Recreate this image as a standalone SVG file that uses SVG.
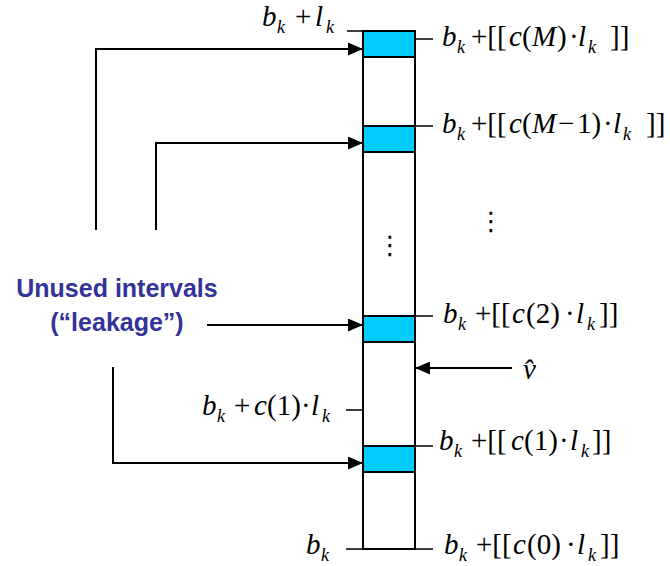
<svg xmlns="http://www.w3.org/2000/svg" width="670" height="566" viewBox="0 0 670 566">
<style>
.m{font-family:"Liberation Serif","Times New Roman",serif;font-size:29px;fill:#000}
.i{font-style:italic}
.s{font-size:18px;font-style:italic}
.lbl{font-family:"Liberation Sans",Arial,sans-serif;font-weight:bold;font-size:25px;fill:#333399;text-anchor:middle}
.dots{font-family:"DejaVu Sans",sans-serif;font-size:26px;fill:#000;text-anchor:middle}
.col{fill:#fff;stroke:#000;stroke-width:2}
.box{fill:#00CCFF;stroke:#000;stroke-width:2}
.tick{stroke:#000;stroke-width:1.5;fill:none}
.con{stroke:#000;stroke-width:2;fill:none}
</style>
<defs>
<marker id="ah" markerUnits="userSpaceOnUse" markerWidth="15" markerHeight="13" refX="15" refY="6.5" orient="auto">
<path d="M0,0 L15,6.5 L0,13 z" fill="#000"/>
</marker>
</defs>

<g id="column">
<rect class="col" x="363" y="31" width="52" height="518"/>
<text class="dots" x="390" y="254">⋮</text>
</g>
<g id="box-M"><rect class="box" x="363" y="31" width="52" height="26"/></g>
<g id="box-M1"><rect class="box" x="363" y="126" width="52" height="26"/></g>
<g id="box-2"><rect class="box" x="363" y="316" width="52" height="26"/></g>
<g id="box-1"><rect class="box" x="363" y="446" width="52" height="26"/></g>

<g id="ticks">
<path class="tick" d="M347,31H363 M415,39H433 M415,126H433 M415,316H433 M346,410H363 M415,446H433 M346,549H363 M415,549H433"/>
</g>

<g id="label-top-left">
<text class="m"><tspan class="i" x="262" y="26">b</tspan><tspan class="s" x="277" y="33">k</tspan><tspan x="295" y="26">+</tspan><tspan class="i" x="315" y="26">l</tspan><tspan class="s" x="326" y="33">k</tspan></text>
</g>

<g id="label-cM">
<text class="m"><tspan class="i" x="442" y="46">b</tspan><tspan class="s" x="457" y="53">k</tspan><tspan x="471" y="46">+[[</tspan><tspan class="i" x="509" y="46">c</tspan><tspan x="522" y="46">(</tspan><tspan class="i" x="532" y="46">M</tspan><tspan x="557" y="46">)</tspan><tspan x="569" y="46">·</tspan><tspan class="i" x="578" y="46">l</tspan><tspan class="s" x="588" y="53">k</tspan><tspan x="610" y="46">]]</tspan></text>
</g>

<g id="label-cM1">
<text class="m"><tspan class="i" x="442" y="133">b</tspan><tspan class="s" x="457" y="140">k</tspan><tspan x="471" y="133">+[[</tspan><tspan class="i" x="509" y="133">c</tspan><tspan x="522" y="133">(</tspan><tspan class="i" x="532" y="133">M</tspan><tspan x="558" y="133">−</tspan><tspan x="577" y="133">1)</tspan><tspan x="603" y="133">·</tspan><tspan class="i" x="613" y="133">l</tspan><tspan class="s" x="623" y="140">k</tspan><tspan x="646" y="133">]]</tspan></text>
</g>

<g id="dots-right">
<text class="dots" x="491" y="230">⋮</text>
</g>

<g id="label-c2">
<text class="m"><tspan class="i" x="443" y="323">b</tspan><tspan class="s" x="458" y="330">k</tspan><tspan x="475" y="323">+[[</tspan><tspan class="i" x="512" y="323">c</tspan><tspan x="526" y="323">(2)</tspan><tspan x="565" y="323">·</tspan><tspan class="i" x="576" y="323">l</tspan><tspan class="s" x="587" y="330">k</tspan><tspan x="599" y="323">]]</tspan></text>
</g>

<g id="label-vhat">
<text class="m i" x="523" y="379">v&#770;</text>
</g>

<g id="label-c1-left">
<text class="m"><tspan class="i" x="202" y="415">b</tspan><tspan class="s" x="217" y="422">k</tspan><tspan x="234" y="415">+</tspan><tspan class="i" x="254" y="415">c</tspan><tspan x="267" y="415">(1)</tspan><tspan x="301" y="415">·</tspan><tspan class="i" x="311" y="415">l</tspan><tspan class="s" x="322" y="422">k</tspan></text>
</g>

<g id="label-c1">
<text class="m"><tspan class="i" x="439" y="450">b</tspan><tspan class="s" x="454" y="457">k</tspan><tspan x="471" y="450">+[[</tspan><tspan class="i" x="511" y="450">c</tspan><tspan x="524" y="450">(1)</tspan><tspan x="559" y="450">·</tspan><tspan class="i" x="570" y="450">l</tspan><tspan class="s" x="581" y="457">k</tspan><tspan x="592" y="450">]]</tspan></text>
</g>

<g id="label-bk">
<text class="m"><tspan class="i" x="306" y="554">b</tspan><tspan class="s" x="321" y="561">k</tspan></text>
</g>

<g id="label-c0">
<text class="m"><tspan class="i" x="444" y="554">b</tspan><tspan class="s" x="459" y="561">k</tspan><tspan x="476" y="554">+[[</tspan><tspan class="i" x="513" y="554">c</tspan><tspan x="527" y="554">(0)</tspan><tspan x="566" y="554">·</tspan><tspan class="i" x="577" y="554">l</tspan><tspan class="s" x="588" y="561">k</tspan><tspan x="600" y="554">]]</tspan></text>
</g>

<g id="label-unused">
<text class="lbl" x="117" y="297">Unused intervals</text>
<text class="lbl" x="117" y="331">(“leakage”)</text>
</g>

<g id="connectors">
<path class="con" d="M96,230V49H363" marker-end="url(#ah)"/>
<path class="con" d="M156,230V143H363" marker-end="url(#ah)"/>
<path class="con" d="M207,325H363" marker-end="url(#ah)"/>
<path class="con" d="M113,367V463H363" marker-end="url(#ah)"/>
<path class="con" d="M512,368H415" marker-end="url(#ah)"/>
</g>
</svg>
